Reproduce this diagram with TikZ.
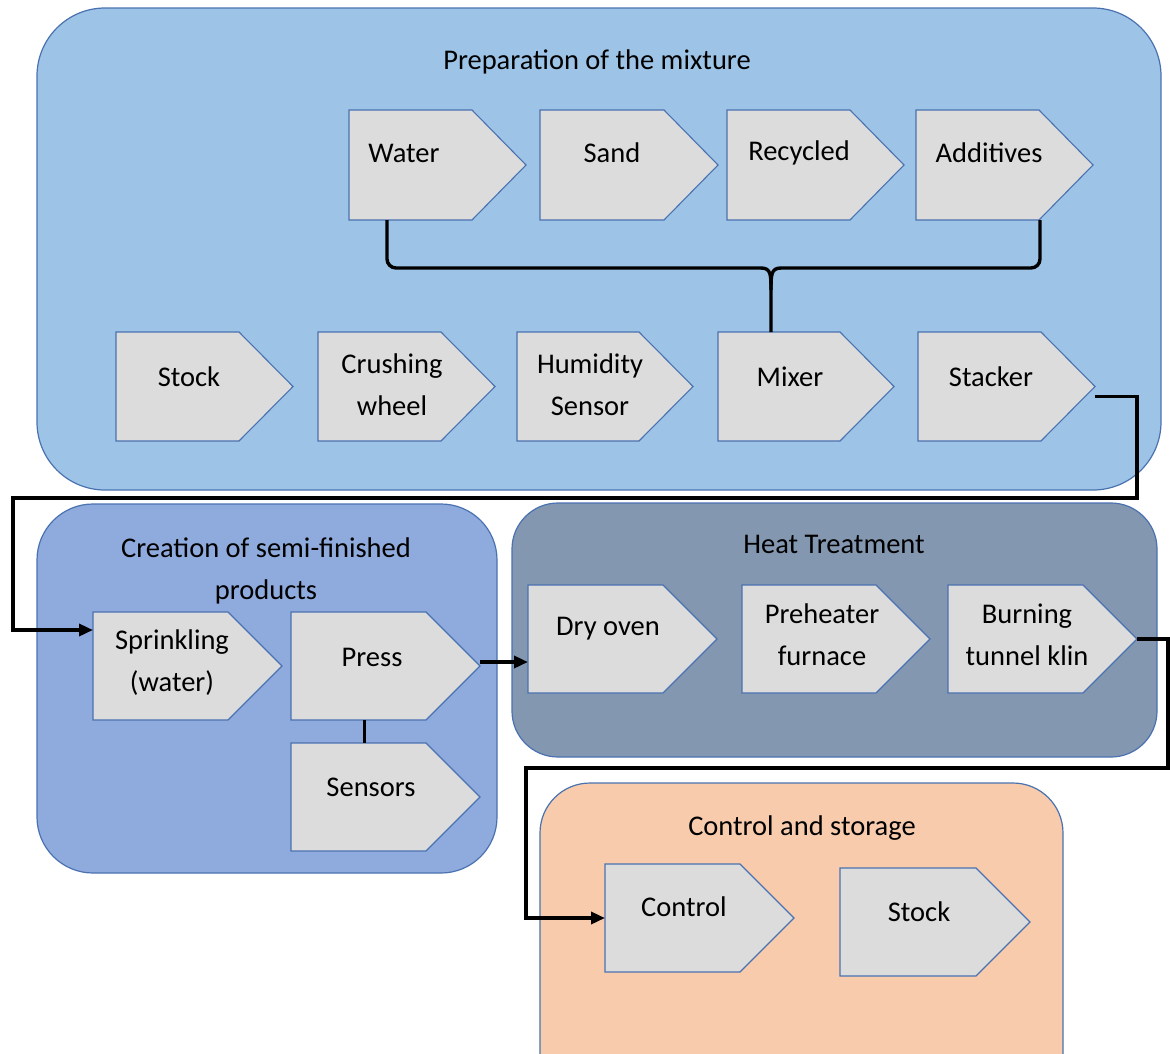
\documentclass[tikz,border=0pt]{standalone}
\usepackage{fontspec}
\setmainfont{Carlito}
\usetikzlibrary{calc,arrows.meta}

\definecolor{prepfill}{HTML}{9DC3E6}
\definecolor{creafill}{HTML}{8FAADC}
\definecolor{heatfill}{HTML}{8497B0}
\definecolor{ctrlfill}{HTML}{F8CBAD}
\definecolor{edgeblue}{HTML}{4A72B0}
\definecolor{stepfill}{HTML}{DCDCDC}

\tikzset{
  panel/.style={draw=edgeblue, line width=1.2pt},
  pentshape/.style={draw=edgeblue, fill=stepfill, line width=1.1pt},
  anchorbox/.style={inner sep=0pt, outer sep=0pt},
  lbl/.style={font=\fontsize{28.5}{34}\selectfont, text=black, align=center, inner sep=0pt},
  conn/.style={line width=3.4pt, black},
  arr/.style={conn, -{Triangle[length=14pt,width=12pt]}},
}

% pentagon arrow box: name, left x, top y, tip x, bottom y
\newcommand\pentbox[5]{%
  \path[pentshape] (#2,#3) -- ({#4-54},#3) -- (#4,{(#3+#5)/2}) -- ({#4-54},#5) -- (#2,#5) -- cycle;
  \node[anchorbox, minimum width={(#4-#2)*1pt}, minimum height={(#5-#3)*1pt}]
    (#1) at ({(#2+#4)/2},{(#3+#5)/2}) {};%
}

\begin{document}
\begin{tikzpicture}[x=1pt,y=-1pt]
\useasboundingbox (0,0) rectangle (1170,1053);

% ---- group panels ----
\begin{scope}
\clip (0,0) rectangle (1170,1053);
\draw[panel, fill=prepfill, rounded corners=68pt] (37,8) rectangle (1161,490);
\draw[panel, fill=creafill, rounded corners=56pt] (37,504) rectangle (497,873);
\draw[panel, fill=heatfill, rounded corners=46pt] (512,503) rectangle (1157,757);
\draw[panel, fill=ctrlfill, rounded corners=50pt] (540,783) rectangle (1063,1110);
\end{scope}

\node[lbl] (t-prep) at (597,62) {Preparation of the mixture};
\node[lbl] (t-crea) at (266,571) {Creation of semi-finished\\[8pt]products};
\node[lbl] (t-heat) at (834,544) {Heat Treatment};
\node[lbl] (t-ctrl) at (802,828) {Control and storage};

% ---- preparation of the mixture ----
\pentbox{water}{349}{110}{526}{220}
\pentbox{sand}{540}{110}{718}{220}
\pentbox{recyc}{727}{110}{904}{220}
\pentbox{addit}{916}{110}{1093}{220}
\pentbox{stock1}{116}{332}{293}{441}
\pentbox{crush}{318}{332}{495}{441}
\pentbox{humid}{517}{332}{693}{441}
\pentbox{mixer}{718}{332}{894}{441}
\pentbox{stack}{918}{332}{1095}{441}

\node[lbl] (t-water) at (404,153) {Water};
\node[lbl] (t-sand) at (612,153) {Sand};
\node[lbl] (t-recyc) at (799,153) {Recycled};
\node[lbl] (t-addit) at (989,153) {Additives};
\node[lbl] (t-stock1) at (189,377) {Stock};
\node[lbl] (t-crush) at (392,385) {Crushing\\[8pt]wheel};
\node[lbl] (t-humid) at (590,385) {Humidity\\[8pt]Sensor};
\node[lbl] (t-mixer) at (790,377) {Mixer};
\node[lbl] (t-stack) at (991,377) {Stacker};

% ---- creation of semi-finished products ----
\pentbox{sprink}{93}{612}{282}{720}
\pentbox{press}{291}{612}{480}{720}
\pentbox{sensors}{291}{743}{480}{851}

\node[lbl] (t-sprink) at (172,663) {Sprinkling\\[8pt](water)};
\node[lbl] (t-press) at (372,657) {Press};
\node[lbl] (t-sensors) at (371,787) {Sensors};

% ---- heat treatment ----
\pentbox{dry}{528}{585}{717}{693}
\pentbox{preheat}{742}{585}{930}{693}
\pentbox{burn}{948}{585}{1137}{693}

\node[lbl] (t-dry) at (608,629) {Dry oven};
\node[lbl] (t-preheat) at (822,635) {Preheater\\[8pt]furnace};
\node[lbl] (t-burn) at (1027,635) {Burning\\[8pt]tunnel klin};

% ---- control and storage ----
\pentbox{control}{605}{864}{794}{972}
\pentbox{stock2}{840}{868}{1030}{976}

\node[lbl] (t-control) at (684,907) {Control};
\node[lbl] (t-stock2) at (919,912) {Stock};

% ---- connectors ----
% ingredients gathered into the mixer
\coordinate (join) at ($(mixer.north west)+(53,-42)$);
\draw[conn, rounded corners=9pt] ($(water.south west)+(38,0)$) |- ($(join)+(-10,-22)$);
\draw[conn, rounded corners=9pt] ($(addit.south east)+(-53,0)$) |- ($(join)+(10,-22)$);
\draw[conn] ($(join)+(-10,-22)$) .. controls ($(join)+(0,-22)$) and ($(join)+(0,-15)$) .. (join)
            -- ($(mixer.north west)+(53,0)$);
\draw[conn] ($(join)+(10,-22)$) .. controls ($(join)+(0,-22)$) and ($(join)+(0,-15)$) .. (join);

% stacker to sprinkling
\coordinate (sbend) at (1137,498);
\draw[arr] ($(stack.east)+(0,10)$) -| (sbend) -| (13,630) -- ($(sprink.north west)+(0,18)$);

% press to dry oven, press to sensors
\draw[arr] ($(press.east)+(0,-4)$) -- ($(press.east -| dry.west)+(0,-4)$);
\draw[conn, line width=3pt] ($(press.south west)+(73,0)$) -- ($(sensors.north west)+(73,0)$);

% burning tunnel kiln to control
\coordinate (bbend) at (1168,768);
\draw[arr] (burn.east) -| (bbend) -| (526,918) -- (control.west);

\end{tikzpicture}
\end{document}
